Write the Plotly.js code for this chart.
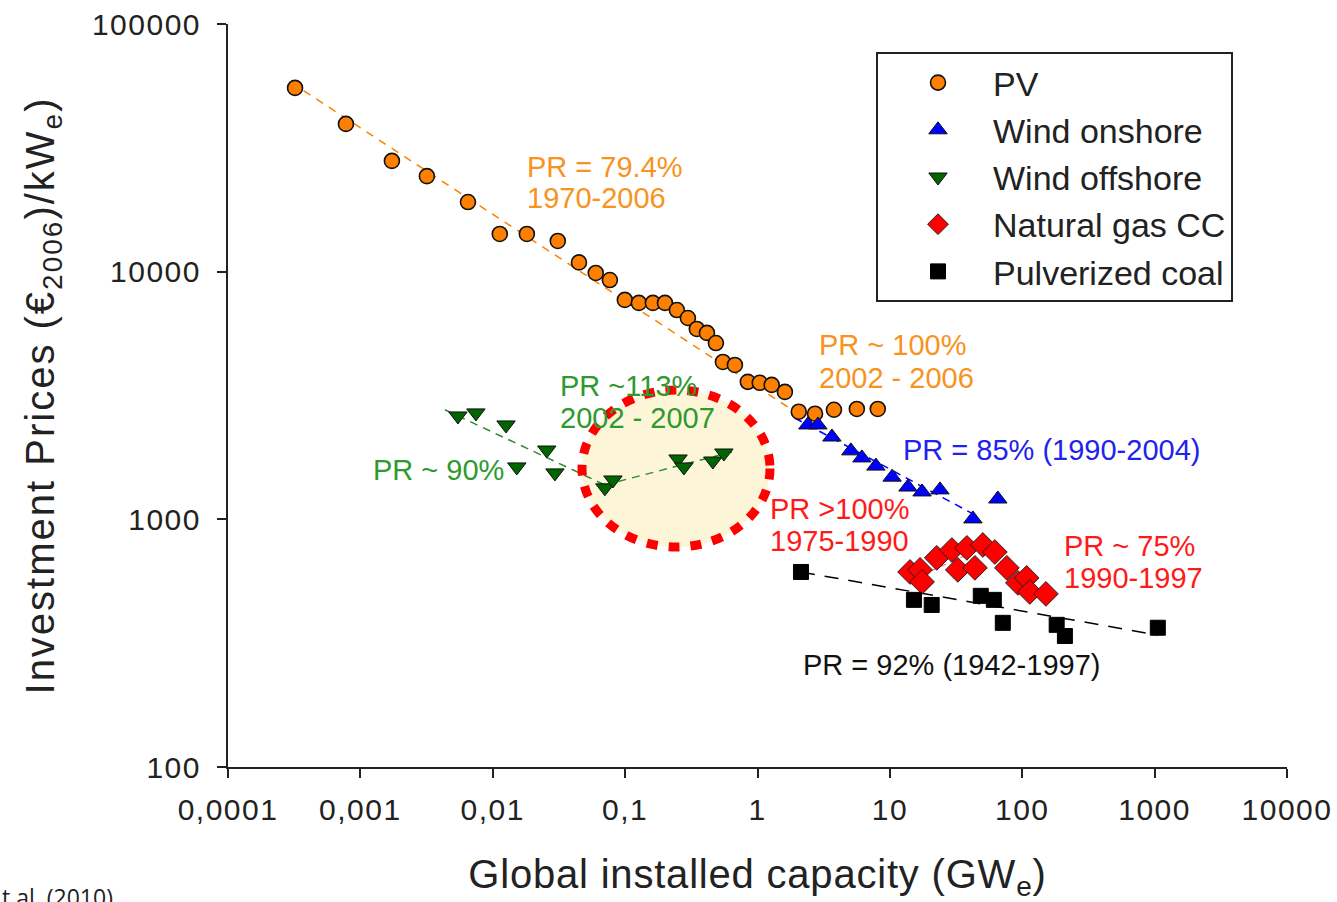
<!DOCTYPE html>
<html><head><meta charset="utf-8">
<script src="https://cdn.plot.ly/plotly-3.0.1.min.js"></script>
<style>
html,body{margin:0;padding:0;background:#fff;}
#chart{width:1337px;height:902px;}
#chart .xtick text,#chart .ytick text{letter-spacing:1.5px;}
#chart .ytitle{letter-spacing:2px;}
#chart .xtitle{letter-spacing:0.8px;}
</style>
</head><body><div id="chart"></div>
<script>
// ---- data ----
const pvCapacity = [0.000321,0.000778,0.00173,0.00318,0.0065,0.0113,0.0181,0.031,0.0448,0.060,0.0767,0.0995,0.127,0.162,0.200,0.246,0.298,0.348,0.415,0.485,0.548,0.675,0.845,1.04,1.28,1.61,2.05,2.72,3.78,5.63,8.1];
const pvPrice = [55200,39500,28000,24300,19100,14200,14200,13300,10900,9880,9250,7690,7480,7480,7480,7000,6500,5870,5660,5150,4320,4200,3590,3560,3490,3270,2720,2670,2770,2790,2790];
const windOnCapacity = [2.40,2.86,3.65,5.07,6.15,7.84,10.4,13.7,17.5,23.9,42.4,65.4];
const windOnPrice = [2405,2405,2150,1890,1770,1640,1480,1350,1290,1315,1004,1208];
const windOffCapacity = [0.00546,0.00746,0.0126,0.0152,0.0256,0.0295,0.0703,0.0809,0.251,0.278,0.460,0.557];
const windOffPrice = [2615,2690,2405,1628,1905,1540,1340,1442,1753,1628,1720,1853];
const gasCapacity = [14.2,16.9,17.5,22.6,29.4,32.6,38.2,43.9,50.4,62.1,76.5,92.7,108,114,151];
const gasPrice = [613,625,559,699,752,625,767,637,788,738,637,554,580,509,500];
const coalCapacity = [2.13,15.2,20.7,48.6,61.0,71.3,182,210,1057];
const coalPrice = [613,473,451,491,473,382,375,338,365];

// trend (experience curve) lines
const pvTrendX = [0.0003, 2.07], pvTrendY = [58000, 2650];
const windOnTrendX = [1.91, 43.9], windOnTrendY = [2566, 1042];
const windOffTrend1X = [0.00435, 0.0703], windOffTrend1Y = [2770, 1377];
const windOffTrend2X = [0.0703, 0.641], windOffTrend2Y = [1377, 1871];
const gasTrend1X = [14.2, 50.4], gasTrend1Y = [569, 767];
const gasTrend2X = [50.4, 151], gasTrend2Y = [767, 491];
const coalTrendX = [2.13, 1057], coalTrendY = [613, 341];

const seriesNames = ['PV','Wind onshore','Wind offshore','Natural gas CC','Pulverized coal'];
const xTickVals = [0.0001,0.001,0.01,0.1,1,10,100,1000,10000];
const xTickText = ['0,0001','0,001','0,01','0,1','1','10','100','1000','10000'];
const yTickVals = [100,1000,10000,100000];
const yTickText = ['100','1000','10000','100000'];
const labelTexts = ['PR = 79.4%','1970-2006','PR ~ 100%','2002 - 2006','PR ~113%','2002 - 2007','PR ~ 90%','PR = 85% (1990-2004)','PR >100%','1975-1990','PR ~ 75%','1990-1997','PR = 92% (1942-1997)'];
const sourceText = 't al. (2010)';

// ---- styling ----
const FONT = 'Liberation Sans, Arial, sans-serif';
const C = {pv:'#ff8000', pvText:'#f7931e', on:'#0000ff', onText:'#2222ee', off:'#006400', offText:'#2e9a2e', gas:'#ff0000', gasText:'#ff1a1a', coal:'#000000'};
const L=228, R=1287, T=24, B=767;
const pxX = x => (x-L)/(R-L);
const pxY = y => (B-y)/(B-T);

function trend(x, y, color, dash, width){
  return {x:x, y:y, type:'scatter', mode:'lines', showlegend:false, hoverinfo:'skip',
    line:{color:color, width:width||1.5, dash:dash||'dash'}};
}

const traces = [
  trend(pvTrendX, pvTrendY, C.pv, '8px,7px', 1.5),
  trend(windOnTrendX, windOnTrendY, C.on, '8px,6px', 1.5),
  trend(windOffTrend1X, windOffTrend1Y, '#2e8b2e', '8px,6px', 1.5),
  trend(windOffTrend2X, windOffTrend2Y, '#2e8b2e', '8px,6px', 1.5),
  trend(gasTrend1X, gasTrend1Y, '#ff6060', '6px,5px', 1.2),
  trend(gasTrend2X, gasTrend2Y, '#ff6060', '6px,5px', 1.2),
  trend(coalTrendX, coalTrendY, '#000000', '14px,10px', 1.5),
  {x:pvCapacity, y:pvPrice, name:seriesNames[0], type:'scatter', mode:'markers',
   marker:{symbol:'circle', size:15, color:C.pv, line:{color:'#111', width:1.6}}},
  {x:windOnCapacity, y:windOnPrice, name:seriesNames[1], type:'scatter', mode:'markers',
   marker:{symbol:'triangle-up', size:16, color:C.on, line:{color:'#111', width:1}}},
  {x:windOffCapacity, y:windOffPrice, name:seriesNames[2], type:'scatter', mode:'markers',
   marker:{symbol:'triangle-down', size:16, color:C.off, line:{color:'#111', width:1}}},
  {x:gasCapacity, y:gasPrice, name:seriesNames[3], type:'scatter', mode:'markers',
   marker:{symbol:'diamond', size:19, color:C.gas, line:{color:'#222', width:1}}},
  {x:coalCapacity, y:coalPrice, name:seriesNames[4], type:'scatter', mode:'markers',
   marker:{symbol:'square', size:15, color:C.coal, line:{color:'#000', width:1}}}
];

const labelPos = [
  [525,167,C.pvText],[525,198,C.pvText],
  [817,345,C.pvText],[817,378,C.pvText],
  [558,386,C.offText],[558,418,C.offText],
  [371,470,C.offText],
  [901,450,C.onText],
  [768,509,C.gasText],[768,541,C.gasText],
  [1062,546,C.gasText],[1062,578,C.gasText],
  [801,665,'#111']
];
const annotations = labelTexts.map((t,i)=>({
  text:t, xref:'paper', yref:'paper', x:pxX(labelPos[i][0]), y:pxY(labelPos[i][1]),
  xanchor:'left', yanchor:'middle', showarrow:false,
  font:{family:FONT, size:29, color:labelPos[i][2]}
}));
annotations.push({text:sourceText, xref:'paper', yref:'paper', x:pxX(0), y:pxY(897),
  xanchor:'left', yanchor:'middle', showarrow:false, font:{family:'Open Sans, sans-serif', size:23, color:'#222'}});

const layout = {
  width:1337, height:902,
  margin:{l:L, r:1337-R, t:T, b:902-B},
  paper_bgcolor:'#fff', plot_bgcolor:'#fff',
  showlegend:true,
  legend:{x:pxX(876), y:pxY(52), xanchor:'left', yanchor:'top',
    bgcolor:'#fff', bordercolor:'#222', borderwidth:2,
    font:{family:FONT, size:34, color:'#222'},
    itemwidth:100, indentation:5, tracegroupgap:0},
  xaxis:{type:'log', range:[-4,4], tickmode:'array', tickvals:xTickVals, ticktext:xTickText,
    showgrid:false, zeroline:false, showline:true, linecolor:'#222', linewidth:2,
    ticks:'outside', ticklen:9, tickwidth:2, tickcolor:'#222', ticklabelstandoff:6,
    tickfont:{family:FONT, size:30, color:'#222'},
    title:{text:'Global installed capacity (GW<sub>e</sub>)', font:{family:FONT, size:40, color:'#222'}, standoff:42}},
  yaxis:{type:'log', range:[2,5], tickmode:'array', tickvals:yTickVals, ticktext:yTickText,
    showgrid:false, zeroline:false, showline:true, linecolor:'#222', linewidth:2,
    ticks:'outside', ticklen:9, tickwidth:2, tickcolor:'#222', ticklabelstandoff:10,
    tickfont:{family:FONT, size:30, color:'#222'},
    title:{text:'Investment Prices (€<sub>2006</sub>)/kW<sub>e</sub>)', font:{family:FONT, size:40, color:'#222'}, standoff:34}},
  shapes:[
    {type:'circle', xref:'paper', yref:'paper', x0:pxX(582), x1:pxX(770), y0:pxY(547), y1:pxY(390),
     fillcolor:'#fdf5d8', line:{width:0}, layer:'below'},
    {type:'circle', xref:'paper', yref:'paper', x0:pxX(582), x1:pxX(770), y0:pxY(547), y1:pxY(390),
     line:{color:'#ff0000', width:9, dash:'11px,11px'}, layer:'above'}
  ],
  annotations:annotations
};

Plotly.newPlot('chart', traces, layout, {displayModeBar:false, staticPlot:true});
</script></body></html>
